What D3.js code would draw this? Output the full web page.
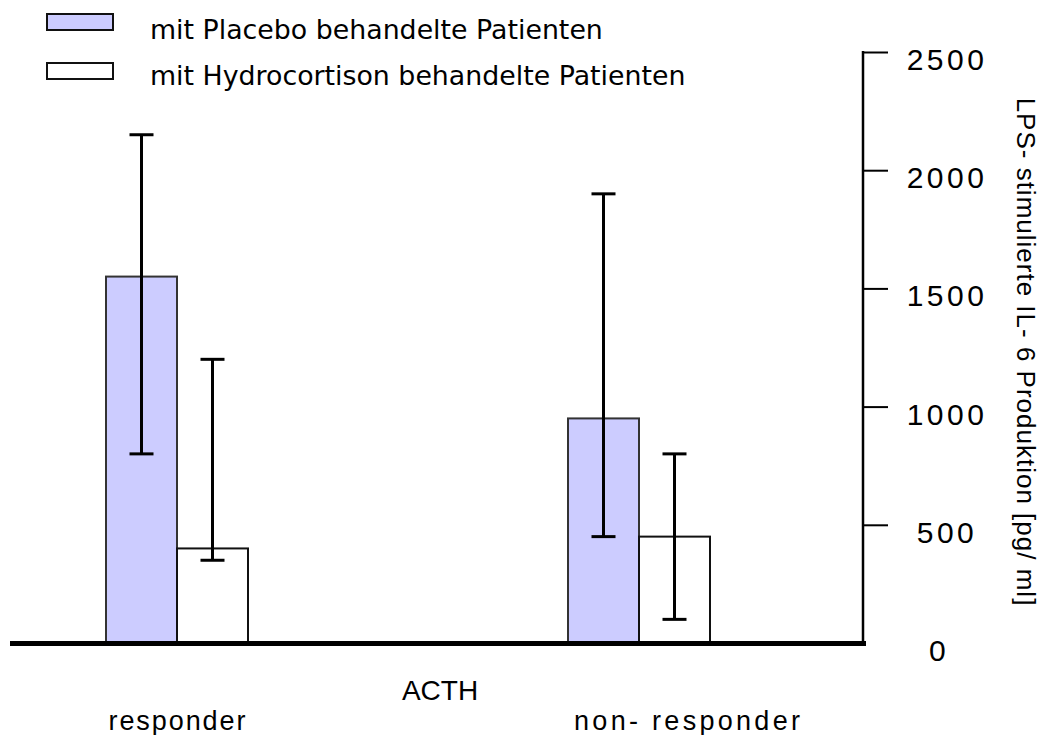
<!DOCTYPE html>
<html>
<head>
<meta charset="utf-8">
<script src="https://cdn.jsdelivr.net/npm/d3@7"></script>
<style>
  html, body { margin: 0; padding: 0; background: #fff; }
  svg { display: block; }
</style>
</head>
<body>
<svg id="chart" width="1048" height="735"></svg>
<script>
// Patient groups (ACTH response) and treatment series
const groups = ["responder", "non- responder"];
const series = ["mit Placebo behandelte Patienten", "mit Hydrocortison behandelte Patienten"];

// Mean LPS-stimulated IL-6 production [pg/ml] per group, one array per series
const placeboMean = [1550, 950];
const hydroMean = [400, 450];

// Error bar extents (low / high) per group
const placeboLow = [800, 450];
const placeboHigh = [2150, 1900];
const hydroLow = [350, 100];
const hydroHigh = [1200, 800];

const yTicks = [0, 500, 1000, 1500, 2000, 2500];
const yTitle = "LPS- stimulierte IL- 6 Produktion [pg/ ml]";
const xTitle = "ACTH";

const fills = ["#ccccff", "#ffffff"];
const strokes = ["#333333", "#111111"];
const sans = "'Liberation Sans', Arial, Helvetica, sans-serif";

const svg = d3.select("#chart");

const y = d3.scaleLinear().domain([0, 2500]).range([643, 52]);
const x = d3.scaleBand().domain(groups).range([-54, 870]);
const half = 71;
const xs = d3.scaleBand().domain(series)
  .range([x.bandwidth() / 2 - half, x.bandwidth() / 2 + half]);

const rows = groups.map((g, i) => [
  { group: g, s: series[0], k: 0, v: placeboMean[i], lo: placeboLow[i], hi: placeboHigh[i] },
  { group: g, s: series[1], k: 1, v: hydroMean[i], lo: hydroLow[i], hi: hydroHigh[i] }
]).flat();

// bars
svg.append("g").selectAll("rect").data(rows).join("rect")
  .attr("x", d => x(d.group) + xs(d.s))
  .attr("y", d => y(d.v))
  .attr("width", xs.bandwidth())
  .attr("height", d => y(0) - y(d.v))
  .attr("fill", d => fills[d.k])
  .attr("stroke", d => strokes[d.k])
  .attr("stroke-width", 2);

// error bars
const capW = 12;
const eb = svg.append("g").attr("stroke", "#000").attr("stroke-width", 3);
rows.forEach(d => {
  const cx = x(d.group) + xs(d.s) + xs.bandwidth() / 2;
  eb.append("line").attr("x1", cx).attr("x2", cx).attr("y1", y(d.lo)).attr("y2", y(d.hi));
  eb.append("line").attr("x1", cx - capW).attr("x2", cx + capW).attr("y1", y(d.lo)).attr("y2", y(d.lo));
  eb.append("line").attr("x1", cx - capW).attr("x2", cx + capW).attr("y1", y(d.hi)).attr("y2", y(d.hi));
});

// thick baseline
svg.append("line")
  .attr("x1", 10).attr("x2", 866)
  .attr("y1", y(0) + 0.5).attr("y2", y(0) + 0.5)
  .attr("stroke", "#000").attr("stroke-width", 5);

// right value axis
const yAxis = d3.axisRight(y).tickValues(yTicks).tickFormat(d3.format("d"))
  .tickSize(25).tickSizeOuter(0);
const ag = svg.append("g").attr("transform", "translate(863,0)").call(yAxis);
ag.select(".domain").attr("stroke", "#000").attr("stroke-width", 2.5)
  .attr("d", `M0,${y(2500) - 1}V${y(0) + 2}`);
ag.selectAll(".tick line").attr("stroke", "#000").attr("stroke-width", 2)
  .attr("display", d => d === 0 ? "none" : null);
ag.selectAll(".tick text")
  .attr("x", d => d === 0 ? 76 : 84).attr("dy", "0.35em").attr("y", 7)
  .attr("text-anchor", "middle")
  .attr("fill", "#000")
  .style("font-family", sans)
  .style("font-size", "30px")
  .style("letter-spacing", "3.5px");

// axis title, rotated to read top-down
svg.append("text")
  .attr("transform", "translate(1017,352) rotate(90)")
  .attr("text-anchor", "middle")
  .style("font-family", sans)
  .style("font-size", "26px")
  .style("letter-spacing", "1px")
  .text(yTitle);

// category labels
svg.append("text")
  .attr("x", 440).attr("y", 700)
  .attr("text-anchor", "middle")
  .style("font-family", sans)
  .style("font-size", "28px")
  .text(xTitle);

const labelLen = [137, 226];
svg.append("g").selectAll("text").data(groups).join("text")
  .attr("x", (d, i) => x(d) + x.bandwidth() / 2 + (i === 0 ? 0 : 48))
  .attr("y", 730)
  .attr("text-anchor", "middle")
  .attr("textLength", (d, i) => labelLen[i])
  .attr("lengthAdjust", "spacing")
  .style("font-family", sans)
  .style("font-size", "27px")
  .text(d => d);

// legend
const lg = svg.append("g");
series.forEach((s, i) => {
  lg.append("rect")
    .attr("x", 47).attr("y", 14 + i * 49)
    .attr("width", 66).attr("height", 16)
    .attr("fill", fills[i]).attr("stroke", "#111").attr("stroke-width", 2);
  lg.append("text")
    .attr("x", 150).attr("y", 39 + i * 46)
    .style("font-family", "'DejaVu Sans', Verdana, sans-serif")
    .style("font-size", "26.8px")
    .text(s);
});
</script>
</body>
</html>
